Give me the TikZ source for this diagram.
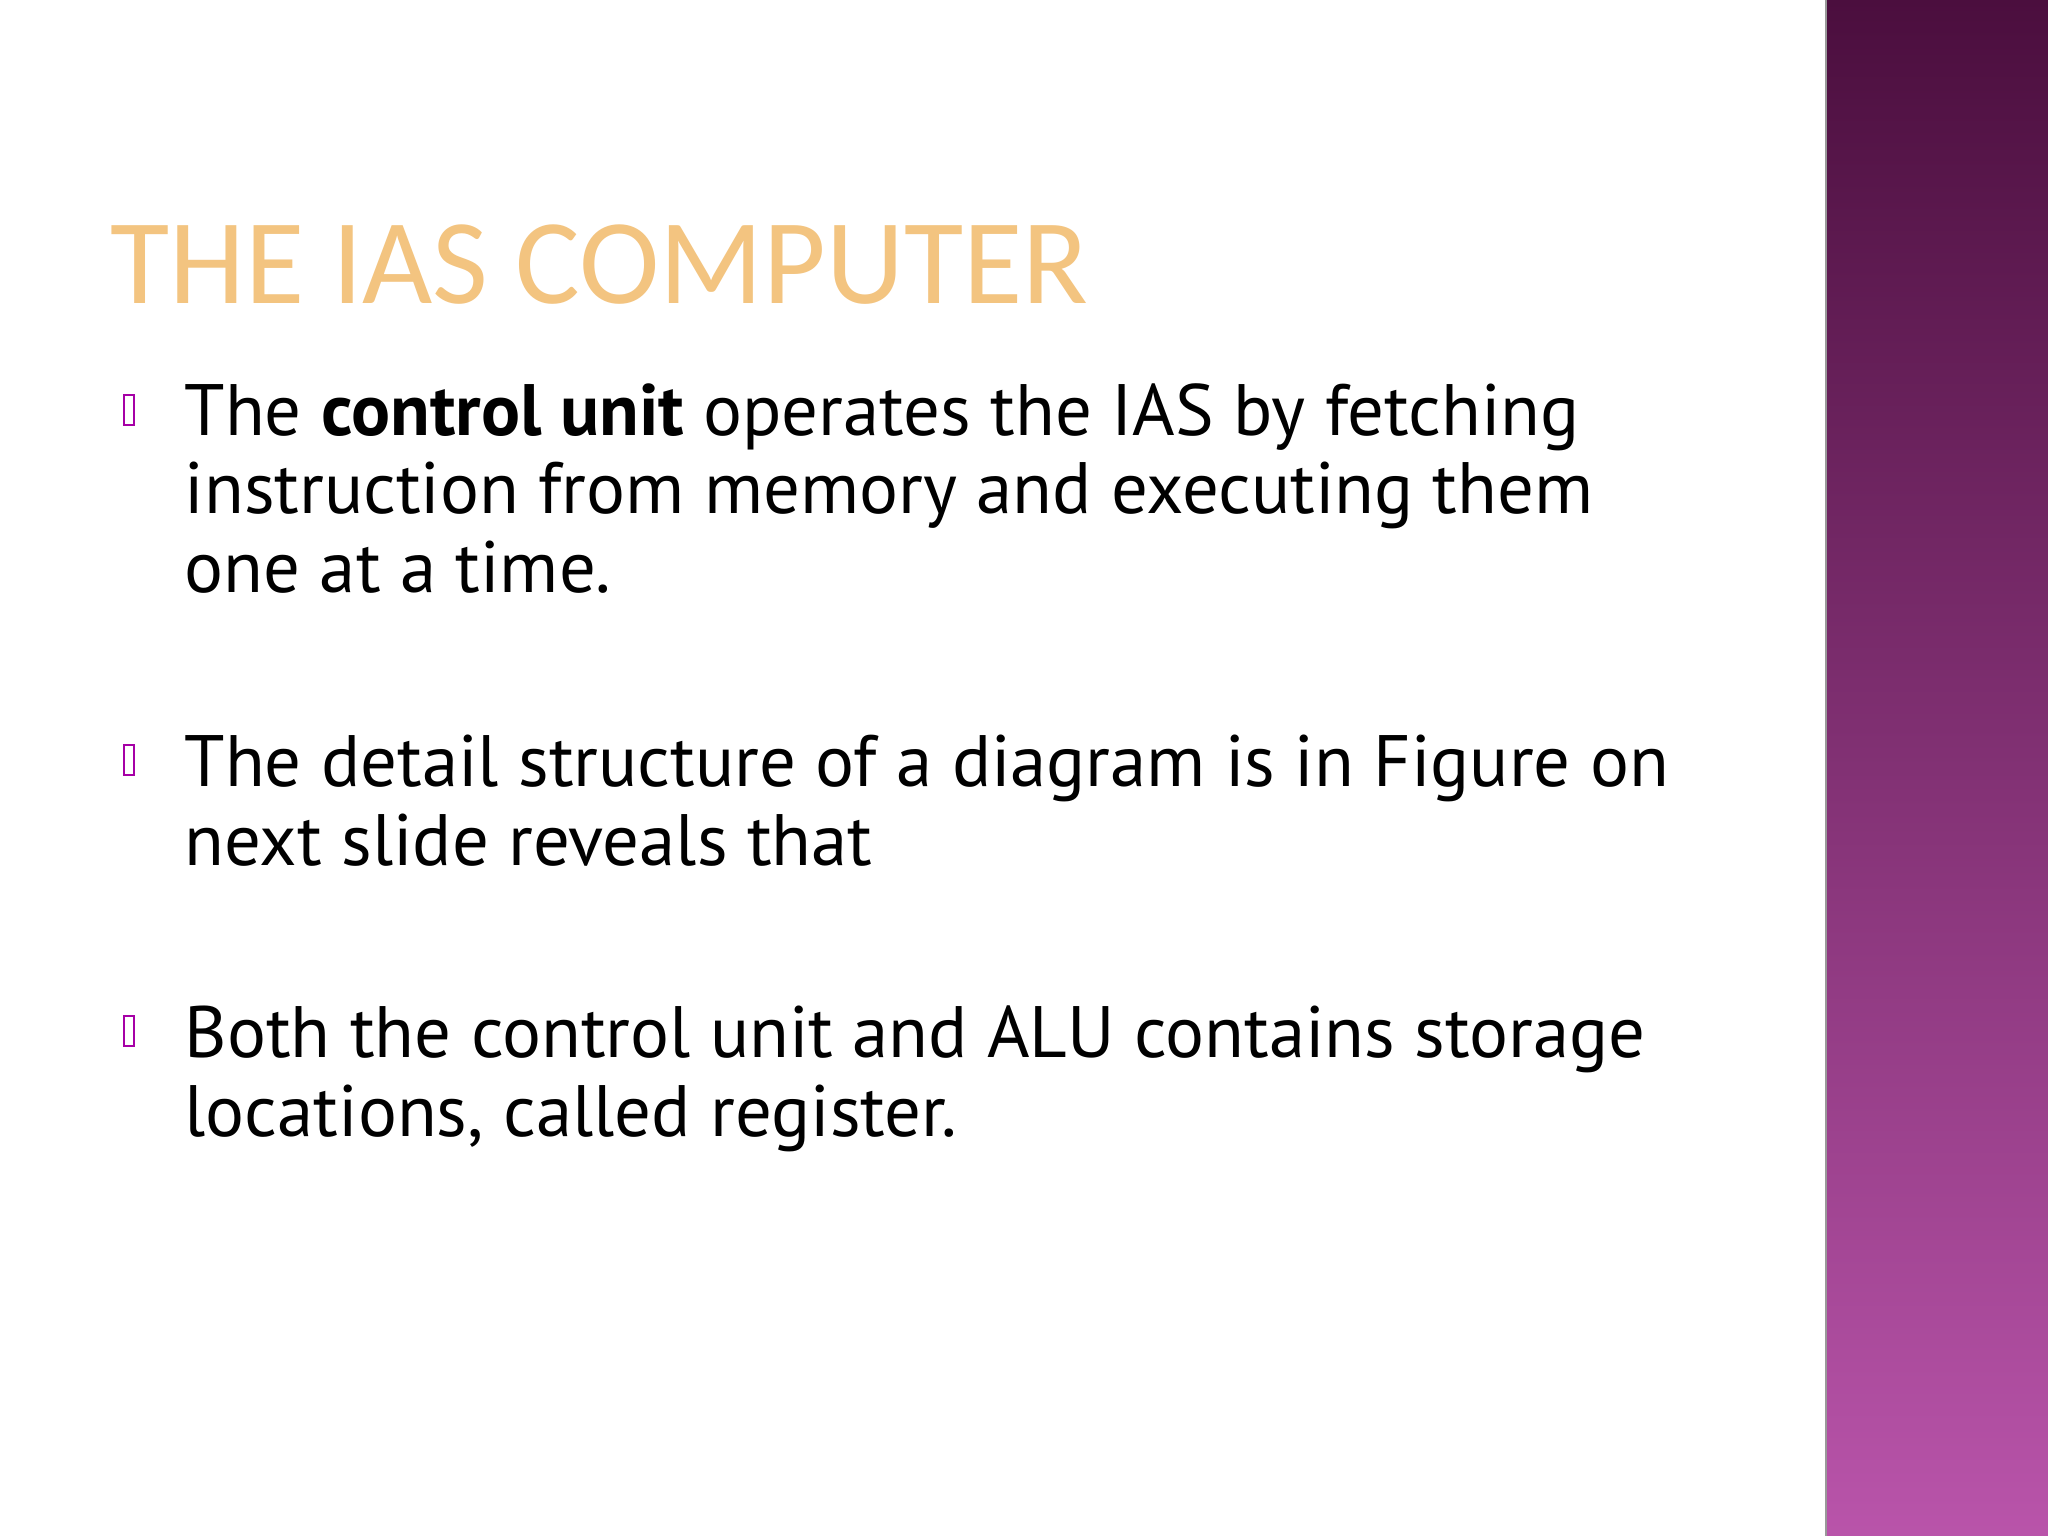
\documentclass[tikz,border=0pt]{standalone}
\usepackage{fontspec}
\setmainfont{PT Sans}
\newfontfamily\titlefont{Carlito}
\begin{document}
\begin{tikzpicture}[x=0.01cm,y=-0.01cm,
  body/.style={anchor=base west,inner sep=0pt,align=left,font=\fontsize{20.7}{22.2}\selectfont},
  bul/.style={draw=violet!70!magenta,line width=0.5pt,inner sep=0pt,minimum width=3pt,minimum height=8.5pt}]
\useasboundingbox (0,0) rectangle (2048,1536);
\fill[white] (0,0) rectangle (2048,1536);
\shade[top color={rgb,255:red,75;green,14;blue,62},bottom color={rgb,255:red,185;green,84;blue,170}] (1826,0) rectangle (2048,1536);
\draw[black!40,line width=0.6pt] (1826,0) -- (1826,1536);
\node[anchor=base west,inner sep=0pt,text={rgb,255:red,243;green,196;blue,128},font=\titlefont\fontsize{34.5}{36}\selectfont] (title) at (110,303) {THE IAS COMPUTER};
\node[bul] (b1) at (129,410) {};
\node[bul] (b2) at (129,760) {};
\node[bul] (b3) at (129,1031) {};
\node[body] (t1) at (184,592) {The \textbf{control unit} operates the IAS by fetching\\instruction from memory and executing them\\one at a time.};
\node[body] (t2) at (184,865) {The detail structure of a diagram is in Figure on\\next slide reveals that};
\node[body] (t3) at (184,1136) {Both the control unit and ALU contains storage\\locations, called register.};
\end{tikzpicture}
\end{document}
